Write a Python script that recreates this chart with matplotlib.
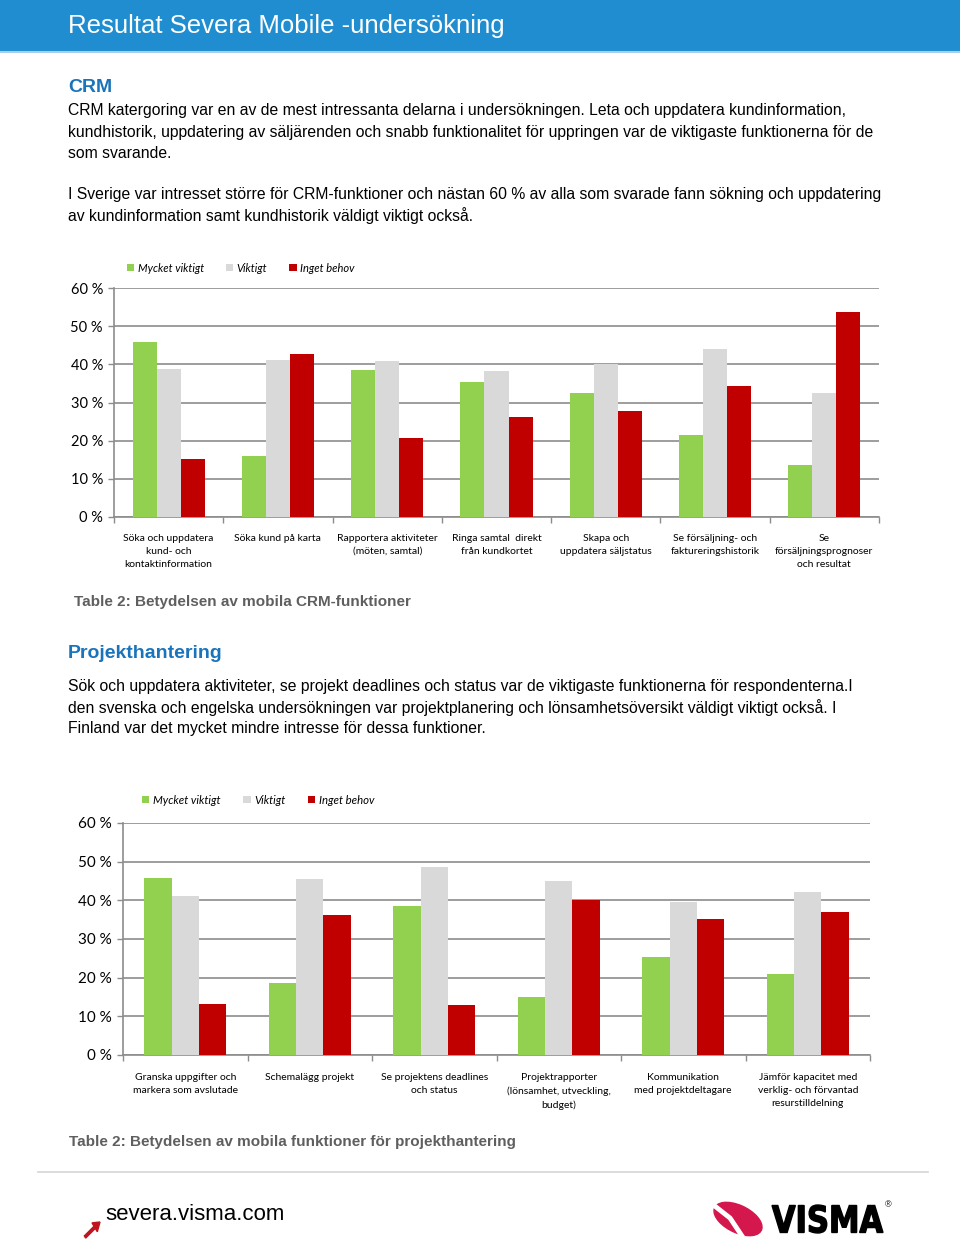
"""Recreate the Severa Mobile survey page (CRM + Projekthantering bar charts)."""

import matplotlib
matplotlib.use("Agg")
import matplotlib.pyplot as plt
import numpy as np
from matplotlib.patches import Rectangle, Ellipse, FancyArrow, PathPatch
from matplotlib.lines import Line2D
from matplotlib.textpath import TextPath
from matplotlib.font_manager import FontProperties
from matplotlib.transforms import Affine2D, IdentityTransform

# --- data -------------------------------------------------------------
series_names = ["Mycket viktigt", "Viktigt", "Inget behov"]
series_colors = ["#92d050", "#d9d9d9", "#c00000"]

crm_categories = [
    "Söka och uppdatera\nkund- och\nkontaktinformation",
    "Söka kund på karta",
    "Rapportera aktiviteter\n(möten, samtal)",
    "Ringa samtal  direkt\nfrån kundkortet",
    "Skapa och\nuppdatera säljstatus",
    "Se försäljning- och\nfaktureringshistorik",
    "Se\nförsäljningsprognoser\noch resultat",
]
crm_mycket = [45.9, 16.0, 38.4, 35.5, 32.4, 21.5, 13.7]
crm_viktigt = [38.8, 41.2, 41.0, 38.3, 40.0, 44.0, 32.6]
crm_inget = [15.3, 42.7, 20.6, 26.3, 27.7, 34.4, 53.6]

proj_categories = [
    "Granska uppgifter och\nmarkera som avslutade",
    "Schemalägg projekt",
    "Se projektens deadlines\noch status",
    "Projektrapporter\n(lönsamhet, utveckling,\nbudget)",
    "Kommunikation\nmed projektdeltagare",
    "Jämför kapacitet med\nverklig- och förvantad\nresurstilldelning",
]
proj_mycket = [45.8, 18.6, 38.5, 15.1, 25.3, 20.9]
proj_viktigt = [41.1, 45.4, 48.6, 44.9, 39.6, 42.1]
proj_inget = [13.2, 36.1, 12.9, 40.1, 35.2, 37.1]

y_ticks = [0, 10, 20, 30, 40, 50, 60]

W, H = 960, 1244
BLUE = "#1f8dd0"
HEAD_BLUE = "#1a74bb"
CAPTION_GRAY = "#5f5f5f"
GRID = "#8c8c8c"
CHART_FONT = ["Lato", "DejaVu Sans"]
BODY_FONT = ["Liberation Sans", "DejaVu Sans"]


def fx(x):
    return x / W


def fy(y):
    return 1 - y / H


def draw_bars(ax, categories, series, tick_size, legend_xy, legend_size, label_pad):
    x = np.arange(len(categories))
    width = 0.22
    for i, (vals, name, color) in enumerate(zip(series, series_names, series_colors)):
        ax.bar(x + (i - 1) * width, vals, width, color=color, label=name, zorder=3)

    ax.set_xlim(-0.5, len(categories) - 0.5)
    ax.set_ylim(0, 60)
    ax.set_yticks(y_ticks)
    ax.set_yticklabels([f"{v} %" for v in y_ticks], fontsize=tick_size, family=CHART_FONT)
    ax.yaxis.grid(True, color=GRID, linewidth=1.2, zorder=0)
    ax.set_axisbelow(True)

    ax.set_xticks(x)
    ax.set_xticklabels(categories, fontsize=7.5, family=CHART_FONT, linespacing=1.6, va="top")
    ax.set_xticks(np.arange(len(categories) + 1) - 0.5, minor=True)
    ax.tick_params(axis="x", which="major", length=0, pad=label_pad)
    ax.tick_params(axis="x", which="minor", length=4, color=GRID, width=1)
    ax.tick_params(axis="y", length=4, color=GRID, width=1, pad=4)

    for side in ("top", "right"):
        ax.spines[side].set_visible(False)
    for side in ("left", "bottom"):
        ax.spines[side].set_color(GRID)
        ax.spines[side].set_linewidth(1.2)

    ax.legend(
        loc="center left", bbox_to_anchor=(fx(legend_xy[0]), fy(legend_xy[1])),
        bbox_transform=ax.figure.transFigure, ncol=3, frameon=False,
        handlelength=0.65, handleheight=0.65, handletextpad=0.3,
        columnspacing=2.0, borderpad=0, borderaxespad=0,
        prop={"family": CHART_FONT, "style": "italic", "size": legend_size},
    )


fig = plt.figure(figsize=(W / 100, H / 100), dpi=100)
fig.patch.set_facecolor("white")

# --- header band ---
fig.patches.append(Rectangle((0, fy(51)), 1, 51 / H, transform=fig.transFigure,
                             color=BLUE, zorder=0))
fig.lines.append(Line2D([0, 1], [fy(52), fy(52)], transform=fig.transFigure,
                        color="#a9cfea", linewidth=1.5))
fig.text(fx(68), fy(26), "Resultat Severa Mobile -undersökning", color="white",
         fontsize=18.5, family=BODY_FONT, va="center")

# --- CRM text block ---
fig.text(fx(68), fy(88), "CRM", color=HEAD_BLUE, fontsize=14, weight="bold",
         family=BODY_FONT, va="center")
crm_lines = [
    (111, "CRM katergoring var en av de mest intressanta delarna i undersökningen. Leta och uppdatera kundinformation,"),
    (132, "kundhistorik, uppdatering av säljärenden och snabb funktionalitet för uppringen var de viktigaste funktionerna för de"),
    (153, "som svarande."),
    (195, "I Sverige var intresset större för CRM-funktioner och nästan 60 % av alla som svarade fann sökning och uppdatering"),
    (216, "av kundinformation samt kundhistorik väldigt viktigt också."),
]
for y, line in crm_lines:
    fig.text(fx(68), fy(y), line, fontsize=11.3, family=BODY_FONT, va="center")

# --- CRM chart ---
ax1 = fig.add_axes([fx(114), fy(517), (879 - 114) / W, (517 - 288) / H])
draw_bars(ax1, crm_categories, [crm_mycket, crm_viktigt, crm_inget], 10.5, (127, 268), 8, 12)

fig.text(fx(74), fy(602), "Table 2: Betydelsen av mobila CRM-funktioner",
         color=CAPTION_GRAY, fontsize=11, weight="bold", family=BODY_FONT, va="center")

# --- Projekthantering text block ---
fig.text(fx(68), fy(653), "Projekthantering", color=HEAD_BLUE, fontsize=14,
         weight="bold", family=BODY_FONT, va="center")
proj_lines = [
    (687, "Sök och uppdatera aktiviteter, se projekt deadlines och status var de viktigaste funktionerna för respondenterna.I"),
    (708, "den svenska och engelska undersökningen var projektplanering och lönsamhetsöversikt väldigt viktigt också. I"),
    (729, "Finland var det mycket mindre intresse för dessa funktioner."),
]
for y, line in proj_lines:
    fig.text(fx(68), fy(y), line, fontsize=11.3, family=BODY_FONT, va="center")

# --- Projekthantering chart ---
ax2 = fig.add_axes([fx(123), fy(1055), (870 - 123) / W, (1055 - 823) / H])
draw_bars(ax2, proj_categories, [proj_mycket, proj_viktigt, proj_inget], 11, (142, 800), 8.2, 13)

fig.text(fx(69), fy(1142), "Table 2: Betydelsen av mobila funktioner för projekthantering",
         color=CAPTION_GRAY, fontsize=11, weight="bold", family=BODY_FONT, va="center")

# --- footer ---
fig.lines.append(Line2D([fx(38), fx(928)], [fy(1172), fy(1172)], transform=fig.transFigure,
                        color="#d4d4d4", linewidth=1.2))
fig.text(fx(105), fy(1215), "severa.visma.com", fontsize=16, family=BODY_FONT,
         va="center", color="black")
fig.patches.append(FancyArrow(fx(85), fy(1237), fx(15), 15 / H, width=0.0022,
                              head_width=0.009, head_length=0.007,
                              length_includes_head=True, transform=fig.transFigure,
                              color="#c0141e"))

# VISMA logo (approximation): swoosh + condensed letters
fig.patches.append(Ellipse((fx(738), fy(1219)), 50 / W, 28 / H, angle=-18,
                           transform=fig.transFigure, color="#d4174c"))
fig.lines.append(Line2D([fx(716), fx(730), fx(742)], [fy(1207), fy(1218), fy(1236)],
                        transform=fig.transFigure, color="white", linewidth=3.5))

logo_path = TextPath((0, 0), "VISMA", size=40,
                     prop=FontProperties(family="DejaVu Sans", weight="bold"))
ext = logo_path.get_extents()
box_x0, box_x1, box_top, box_bottom = 772, 883, 1205, 1233
sx = (box_x1 - box_x0) / ext.width
sy = (box_bottom - box_top) / ext.height
logo_tf = (Affine2D().translate(-ext.x0, -ext.y0).scale(sx, sy)
           .translate(box_x0, H - box_bottom))
fig.patches.append(PathPatch(logo_tf.transform_path(logo_path), color="black",
                             transform=IdentityTransform()))
fig.text(fx(885), fy(1205), "®", fontsize=6.5, family=BODY_FONT, va="center")

fig.savefig("out.png", dpi=100)
